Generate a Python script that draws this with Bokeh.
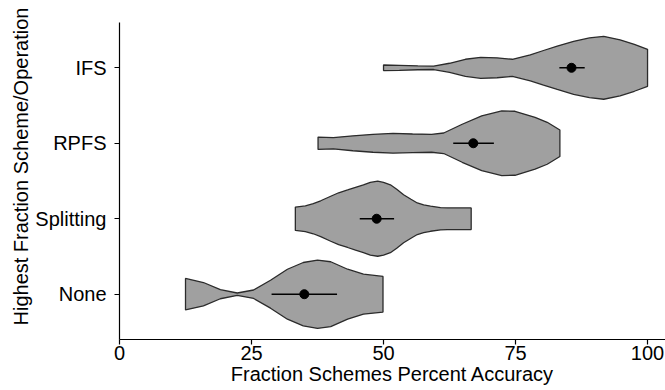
from bokeh.plotting import figure
from bokeh.models import FixedTicker, Title
from bokeh.embed import file_html
from bokeh.resources import INLINE

# Categories (bottom to top)
categories = ["None", "Splitting", "RPFS", "IFS"]

# Violin profiles: x positions (percent accuracy) and half-widths (in category units)
none_x = [12.5, 15.9, 19.1, 22.3, 25.4, 28.6, 31.8, 34.8, 37.5, 40.0, 43.2, 46.2, 49.9]
none_hw = [0.209, 0.155, 0.060, 0.016, 0.056, 0.185, 0.331, 0.420, 0.453, 0.430, 0.331, 0.265, 0.236]

split_x = [33.3, 35.2, 36.7, 38.1, 40.0, 41.5, 43.2, 44.7, 46.2, 47.5, 48.9, 50.0, 51.3,
           52.5, 53.8, 55.2, 56.4, 57.6, 58.9, 60.8, 62.1, 66.6]
split_hw = [0.155, 0.170, 0.199, 0.238, 0.298, 0.344, 0.381, 0.417, 0.448, 0.483, 0.497, 0.483,
            0.450, 0.391, 0.318, 0.258, 0.209, 0.183, 0.166, 0.148, 0.143, 0.143]

rpfs_x = [37.6, 40.5, 44.2, 48.0, 51.8, 55.5, 59.1, 61.4, 64.9, 68.6, 72.4, 74.9, 78.7, 81.0, 83.4]
rpfs_hw = [0.082, 0.075, 0.099, 0.119, 0.132, 0.123, 0.119, 0.136, 0.252, 0.363, 0.428, 0.424,
           0.344, 0.278, 0.176]

ifs_x = [50.0, 53.0, 56.5, 59.5, 62.5, 65.5, 68.4, 71.5, 74.4, 77.8, 80.3, 82.9, 86.0, 89.0,
         91.7, 94.8, 97.5, 100.0]
ifs_hw = [0.037, 0.033, 0.026, 0.023, 0.060, 0.113, 0.139, 0.132, 0.113, 0.172, 0.229, 0.287,
          0.351, 0.395, 0.417, 0.371, 0.311, 0.245]

# Means and confidence intervals
means = [35.0, 48.7, 67.0, 85.6]
ci_low = [28.8, 45.5, 63.2, 83.3]
ci_high = [41.2, 52.0, 70.9, 88.1]

x_ticks = [0, 25, 50, 75, 100]
x_title = "Fraction Schemes Percent Accuracy"
y_title = "Highest Fraction Scheme/Operation"

profiles = [(none_x, none_hw), (split_x, split_hw), (rpfs_x, rpfs_hw), (ifs_x, ifs_hw)]

X_MAX = 103.4
p = figure(width=665, height=390, x_range=(0, X_MAX), y_range=(0.4, 4.6),
           output_backend="svg", toolbar_location=None,
           min_border_left=119, min_border_right=0, min_border_top=22, min_border_bottom=51)

for i, (xs, hws) in enumerate(profiles):
    c = i + 1
    px = list(xs) + list(reversed(xs))
    py = [c + h for h in hws] + [c - h for h in reversed(hws)]
    p.patch(px, py, fill_color="#a0a0a0", line_color="#2b2b2b", line_width=1.3)

pos = [i + 1 for i in range(len(categories))]
p.segment(x0=ci_low, y0=pos, x1=ci_high, y1=pos, line_color="black", line_width=1.6)
p.scatter(x=means, y=pos, size=9, fill_color="black", line_color="black")

p.grid.visible = False
p.outline_line_color = None
p.background_fill_color = "white"
p.border_fill_color = "white"

font = "Liberation Sans"
for ax in (p.xaxis[0], p.yaxis[0]):
    ax.axis_line_color = "black"
    ax.axis_line_width = 1.2
    ax.major_tick_line_color = "black"
    ax.major_tick_line_width = 1.2
    ax.major_tick_out = 5
    ax.major_tick_in = 0
    ax.minor_tick_line_color = None
    ax.major_label_text_font = font
    ax.major_label_text_font_size = "20px"
    ax.major_label_text_color = "black"
    ax.axis_label_text_font = font
    ax.axis_label_text_font_size = "20px"
    ax.axis_label_text_font_style = "normal"
    ax.axis_label_text_color = "black"

p.xaxis.ticker = FixedTicker(ticks=x_ticks)
p.xaxis.axis_label = x_title
p.xaxis.major_label_standoff = 1
p.xaxis.axis_label_standoff = 0

p.yaxis.ticker = FixedTicker(ticks=pos)
p.yaxis.major_label_overrides = {c: lab for c, lab in zip(pos, categories)}
p.yaxis.major_label_standoff = 8

p.add_layout(Title(text=y_title, align="left", offset=14, standoff=2,
                   text_font=font, text_font_size="20px", text_font_style="normal",
                   text_color="black"), "left")

open("out.html", "w").write(file_html(p, INLINE))
